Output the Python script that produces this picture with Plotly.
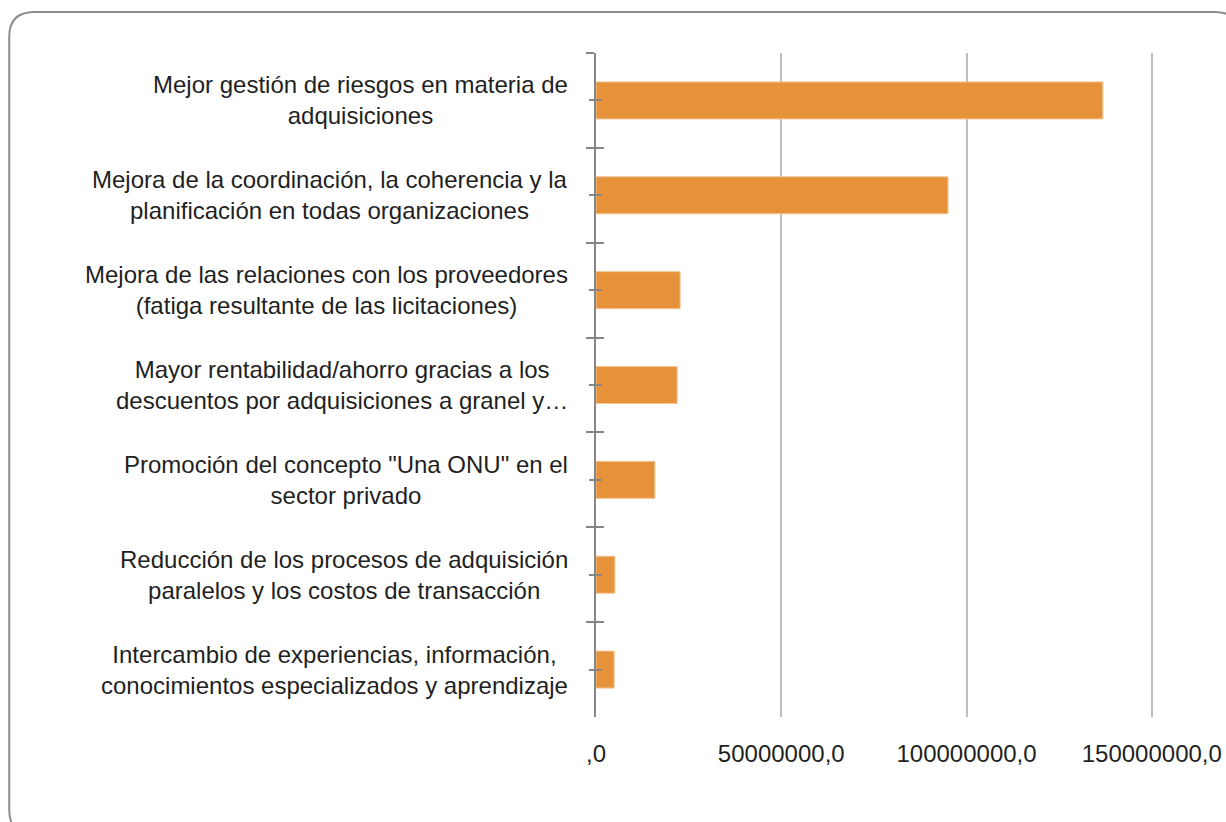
import plotly.graph_objects as go

# ---- data ----
labels = [
    "Mejor gestión de riesgos en materia de\nadquisiciones",
    "Mejora de la coordinación, la coherencia y la\nplanificación en todas organizaciones",
    "Mejora de las relaciones con los proveedores\n(fatiga resultante de las licitaciones)",
    "Mayor rentabilidad/ahorro gracias a los\ndescuentos por adquisiciones a granel y…",
    "Promoción del concepto \"Una ONU\" en el\nsector privado",
    "Reducción de los procesos de adquisición\nparalelos y los costos de transacción",
    "Intercambio de experiencias, información,\nconocimientos especializados y aprendizaje",
]
values = [136.8e6, 95.0e6, 22.7e6, 21.9e6, 15.9e6, 5.1e6, 4.9e6]
x_tickvals = [0, 50e6, 100e6, 150e6]
x_ticktext = [",0", "50000000,0", "100000000,0", "150000000,0"]
x_max = 150.6e6  # tiny headroom so the last gridline is drawn

# ---- layout geometry (pixels) ----
W, H = 1226, 822
L, T, B = 596, 53, 717
R = L + (1152 - L) * x_max / 150e6
FONT = "Liberation Sans"
TXT = "#1f1f1f"
AXC = "#868686"


def px(xp):
    return (xp - L) / (R - L)


def py(yp):
    return (B - yp) / (B - T)


cats = [s.replace("\n", "<br>") for s in labels]
yrange = [len(cats) - 0.5, -0.5]

fig = go.Figure()
fig.add_trace(go.Bar(
    x=values, y=cats, orientation="h",
    marker=dict(color="#E6923A", line=dict(color="#F2C593", width=1)),
    hoverinfo="x+y", showlegend=False,
))
# invisible helper traces so the overlay tick axes get the categories
for ax in ["y2", "y3", "y4"]:
    fig.add_trace(go.Scatter(
        x=values, y=cats, yaxis=ax, mode="markers",
        marker=dict(opacity=0), hoverinfo="skip", showlegend=False,
    ))

common_y = dict(type="category", categoryorder="array", categoryarray=cats,
                range=yrange, showgrid=False, zeroline=False, automargin=False,
                showticklabels=False, tickcolor=AXC, tickwidth=2)
fig.update_layout(
    width=W, height=H, autosize=False,
    margin=dict(l=L, r=W - R, t=T, b=H - B, pad=0, autoexpand=False),
    paper_bgcolor="white", plot_bgcolor="white",
    bargap=0.61,
    xaxis=dict(range=[0, x_max], tickmode="array", tickvals=x_tickvals,
               ticktext=x_ticktext, showgrid=True, gridcolor="#BEBEBE",
               gridwidth=1.5, zeroline=False, showline=False, ticks="",
               ticklabelstandoff=20, automargin=False,
               tickfont=dict(family=FONT, size=24, color=TXT)),
    yaxis=dict(**common_y, ticks="outside", tickson="boundaries", ticklen=8,
               showline=True, linecolor=AXC, linewidth=2),
    yaxis2=dict(**common_y, overlaying="y", ticks="inside",
                tickson="boundaries", ticklen=8, showline=False),
    yaxis3=dict(**common_y, overlaying="y", ticks="outside", ticklen=6,
                showline=False),
    yaxis4=dict(**common_y, overlaying="y", ticks="inside", ticklen=6,
                showline=False),
)

# category labels (centered multi-line, right edge next to axis)
for c in cats:
    fig.add_annotation(
        x=px(570), xref="paper", y=c, yref="y", text=c,
        xanchor="right", yanchor="middle", align="center", showarrow=False,
        font=dict(family=FONT, size=24, color=TXT),
    )

# rounded outer frame
l0, t0, r0, b0, rr = 9, 12, 1240, 835, 25
path = (f"M {px(l0)},{py(t0 + rr)} Q {px(l0)},{py(t0)} {px(l0 + rr)},{py(t0)} "
        f"L {px(r0 - rr)},{py(t0)} Q {px(r0)},{py(t0)} {px(r0)},{py(t0 + rr)} "
        f"L {px(r0)},{py(b0 - rr)} Q {px(r0)},{py(b0)} {px(r0 - rr)},{py(b0)} "
        f"L {px(l0 + rr)},{py(b0)} Q {px(l0)},{py(b0)} {px(l0)},{py(b0 - rr)} Z")
fig.add_shape(type="path", path=path, xref="paper", yref="paper",
              line=dict(color="#8C8C8C", width=2), layer="above")

fig.write_html("out.html", config={"displayModeBar": False},
               post_script="document.body.style.margin='0';document.body.style.overflow='hidden';")
